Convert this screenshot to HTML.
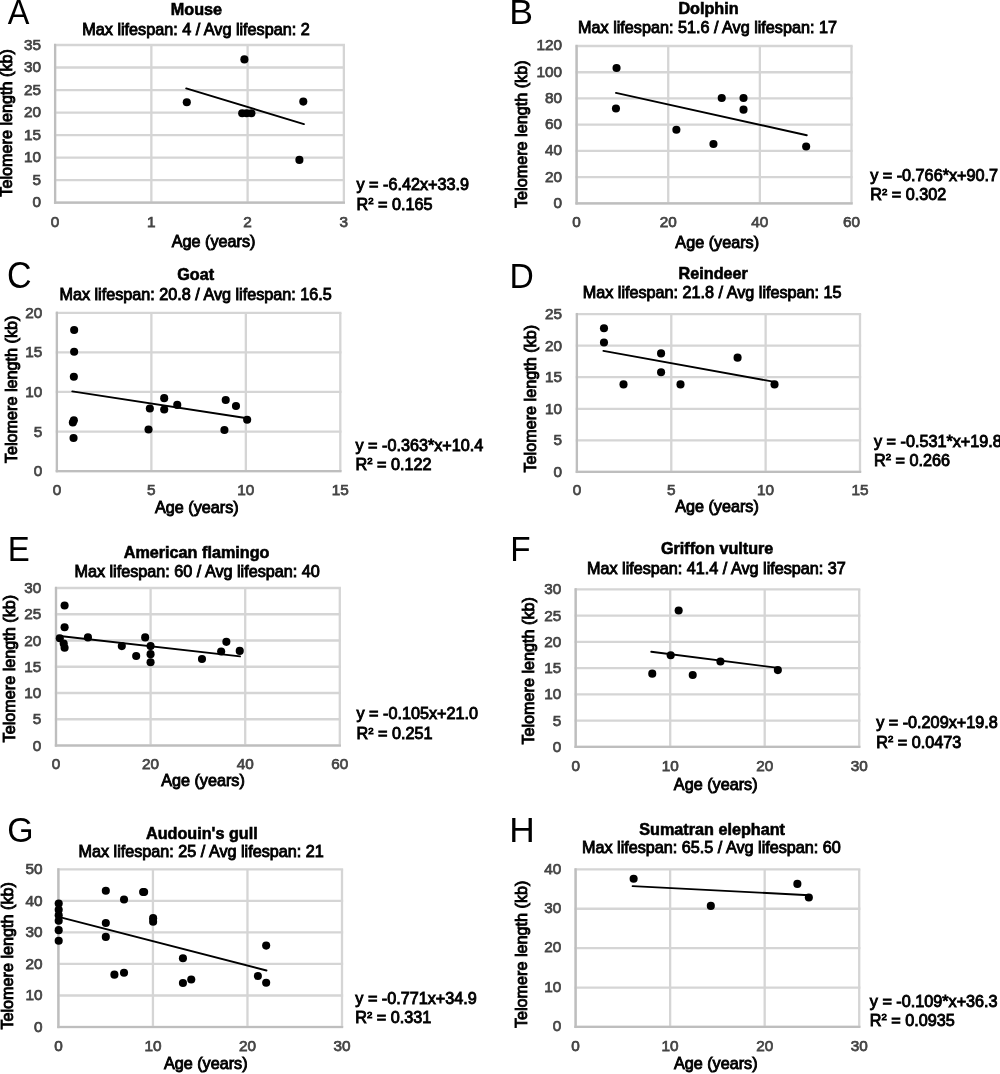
<!DOCTYPE html>
<html lang="en">
<head>
<meta charset="utf-8">
<title>Telomere length vs age</title>
<style>
html,body{margin:0;padding:0;background:#fff;}
svg{display:block;will-change:transform;}
text{font-family:"Liberation Sans", Arial, Helvetica, sans-serif;font-size:16.2px;fill:#000;stroke:#000;stroke-width:0.9px;}
.g line{stroke:#d5d5d5;stroke-width:2.3;}
.g line.ax{stroke:#bebebe;stroke-width:2.2;}
.tk text{fill:#444444;stroke:#444444;stroke-width:0.75px;font-size:15.3px;}
.b{font-weight:bold;stroke-width:0.6px;}
.L{font-size:34px;stroke:none;}
.m{text-anchor:middle;}
.e{text-anchor:end;}
.pt circle{fill:#000;}
.fit{stroke:#000;stroke-width:1.9;stroke-linecap:round;}
.sup{font-size:9.6px;}
</style>
</head>
<body>
<svg width="1000" height="1074" viewBox="0 0 1000 1074">
<rect width="1000" height="1074" fill="#fff"/>
<g id="panel-A">
<text class="L" transform="translate(7.72 23.56) scale(0.955 1.045)">A</text>
<text class="b m" x="196.5" y="15.3">Mouse</text>
<text class="m" x="196" y="35.1">Max lifespan: 4 / Avg lifespan: 2</text>
<g class="g">
<line x1="53.95" y1="45" x2="345" y2="45"/>
<line x1="53.95" y1="67.51" x2="345" y2="67.51"/>
<line x1="53.95" y1="90.03" x2="345" y2="90.03"/>
<line x1="53.95" y1="112.54" x2="345" y2="112.54"/>
<line x1="53.95" y1="135.06" x2="345" y2="135.06"/>
<line x1="53.95" y1="157.57" x2="345" y2="157.57"/>
<line x1="53.95" y1="180.09" x2="345" y2="180.09"/>
<line x1="53.95" y1="202.6" x2="345" y2="202.6"/>
<line x1="55.1" y1="45" x2="55.1" y2="202.6"/>
<line x1="151.35" y1="45" x2="151.35" y2="202.6"/>
<line x1="247.6" y1="45" x2="247.6" y2="202.6"/>
<line x1="343.85" y1="45" x2="343.85" y2="202.6"/>
<line class="ax" x1="55.1" y1="43.85" x2="55.1" y2="203.75"/>
<line class="ax" x1="53.95" y1="202.6" x2="345" y2="202.6"/>
</g>
<g class="tk">
<text class="e" x="41" y="49.6">35</text>
<text class="e" x="41" y="72.11">30</text>
<text class="e" x="41" y="94.63">25</text>
<text class="e" x="41" y="117.14">20</text>
<text class="e" x="41" y="139.66">15</text>
<text class="e" x="41" y="162.17">10</text>
<text class="e" x="41" y="184.69">5</text>
<text class="e" x="41" y="207.2">0</text>
<text class="m" x="55.1" y="227">0</text>
<text class="m" x="151.35" y="227">1</text>
<text class="m" x="247.6" y="227">2</text>
<text class="m" x="343.85" y="227">3</text>
</g>
<text class="m" x="213.6" y="247">Age (years)</text>
<text class="m" transform="translate(12.2 122.9) rotate(-90)">Telomere length (kb)</text>
<line class="fit" x1="186.2" y1="88.4" x2="303.9" y2="124.15"/>
<g class="pt">
<circle cx="244.4" cy="59.4" r="4.05"/>
<circle cx="186.8" cy="102.2" r="4.05"/>
<circle cx="303.3" cy="101.6" r="4.05"/>
<circle cx="242.2" cy="113.18" r="4.05"/>
<circle cx="246.6" cy="113.18" r="4.05"/>
<circle cx="251.4" cy="113.18" r="4.05"/>
<circle cx="299.4" cy="159.9" r="4.05"/>
</g>
<text x="356.5" y="190.1">y = -6.42x+33.9</text>
<text x="356.5" y="209.5">R<tspan class="sup" dy="-5.5">2</tspan><tspan dy="5.5"> = 0.165</tspan></text>
</g>
<g id="panel-B">
<text class="L" transform="translate(509.21 23.56) scale(1.048 1.045)">B</text>
<text class="b m" x="708.5" y="14.2">Dolphin</text>
<text class="m" x="707.5" y="33.1">Max lifespan: 51.6 / Avg lifespan: 17</text>
<g class="g">
<line x1="575.45" y1="46" x2="852.65" y2="46"/>
<line x1="575.45" y1="72.23" x2="852.65" y2="72.23"/>
<line x1="575.45" y1="98.47" x2="852.65" y2="98.47"/>
<line x1="575.45" y1="124.7" x2="852.65" y2="124.7"/>
<line x1="575.45" y1="150.93" x2="852.65" y2="150.93"/>
<line x1="575.45" y1="177.17" x2="852.65" y2="177.17"/>
<line x1="575.45" y1="203.4" x2="852.65" y2="203.4"/>
<line x1="576.6" y1="46" x2="576.6" y2="203.4"/>
<line x1="668.23" y1="46" x2="668.23" y2="203.4"/>
<line x1="759.87" y1="46" x2="759.87" y2="203.4"/>
<line x1="851.5" y1="46" x2="851.5" y2="203.4"/>
<line class="ax" x1="576.6" y1="44.85" x2="576.6" y2="204.55"/>
<line class="ax" x1="575.45" y1="203.4" x2="852.65" y2="203.4"/>
</g>
<g class="tk">
<text class="e" x="562" y="50.4">120</text>
<text class="e" x="562" y="76.63">100</text>
<text class="e" x="562" y="102.87">80</text>
<text class="e" x="562" y="129.1">60</text>
<text class="e" x="562" y="155.33">40</text>
<text class="e" x="562" y="181.57">20</text>
<text class="e" x="562" y="207.8">0</text>
<text class="m" x="576.6" y="227.2">0</text>
<text class="m" x="668.23" y="227.2">20</text>
<text class="m" x="759.87" y="227.2">40</text>
<text class="m" x="851.5" y="227.2">60</text>
</g>
<text class="m" x="717.2" y="248.1">Age (years)</text>
<text class="m" transform="translate(526.5 134.25) rotate(-90)">Telomere length (kb)</text>
<line class="fit" x1="615.96" y1="92.88" x2="806.75" y2="135.21"/>
<g class="pt">
<circle cx="616.56" cy="68.02" r="4.05"/>
<circle cx="615.96" cy="108.43" r="4.05"/>
<circle cx="676.39" cy="129.75" r="4.05"/>
<circle cx="713.45" cy="144" r="4.05"/>
<circle cx="721.74" cy="98.03" r="4.05"/>
<circle cx="743.52" cy="98.03" r="4.05"/>
<circle cx="743.52" cy="109.65" r="4.05"/>
<circle cx="806.15" cy="146.52" r="4.05"/>
</g>
<text x="870.2" y="181">y = -0.766*x+90.7</text>
<text x="870.2" y="200">R<tspan class="sup" dy="-5.5">2</tspan><tspan dy="5.5"> = 0.302</tspan></text>
</g>
<g id="panel-C">
<text class="L" transform="translate(7 288.38) scale(1.0 1.074)">C</text>
<text class="b m" x="195.6" y="280.4">Goat</text>
<text class="m" x="195.6" y="300.3">Max lifespan: 20.8 / Avg lifespan: 16.5</text>
<g class="g">
<line x1="55.75" y1="312.8" x2="341.45" y2="312.8"/>
<line x1="55.75" y1="352.38" x2="341.45" y2="352.38"/>
<line x1="55.75" y1="391.95" x2="341.45" y2="391.95"/>
<line x1="55.75" y1="431.53" x2="341.45" y2="431.53"/>
<line x1="55.75" y1="471.1" x2="341.45" y2="471.1"/>
<line x1="56.9" y1="312.8" x2="56.9" y2="471.1"/>
<line x1="151.37" y1="312.8" x2="151.37" y2="471.1"/>
<line x1="245.83" y1="312.8" x2="245.83" y2="471.1"/>
<line x1="340.3" y1="312.8" x2="340.3" y2="471.1"/>
<line class="ax" x1="56.9" y1="311.65" x2="56.9" y2="472.25"/>
<line class="ax" x1="55.75" y1="471.1" x2="341.45" y2="471.1"/>
</g>
<g class="tk">
<text class="e" x="42.2" y="317.8">20</text>
<text class="e" x="42.2" y="357.38">15</text>
<text class="e" x="42.2" y="396.95">10</text>
<text class="e" x="42.2" y="436.53">5</text>
<text class="e" x="42.2" y="476.1">0</text>
<text class="m" x="56.9" y="494.8">0</text>
<text class="m" x="151.37" y="494.8">5</text>
<text class="m" x="245.83" y="494.8">10</text>
<text class="m" x="340.3" y="494.8">15</text>
</g>
<text class="m" x="196.9" y="513.1">Age (years)</text>
<text class="m" transform="translate(17 389.4) rotate(-90)">Telomere length (kb)</text>
<line class="fit" x1="72.26" y1="391.34" x2="247.16" y2="418.2"/>
<g class="pt">
<circle cx="74.15" cy="330.03" r="4.05"/>
<circle cx="74.15" cy="351.72" r="4.05"/>
<circle cx="73.85" cy="376.75" r="4.05"/>
<circle cx="73.85" cy="420.23" r="4.05"/>
<circle cx="72.85" cy="422.45" r="4.05"/>
<circle cx="73.55" cy="438.06" r="4.05"/>
<circle cx="148.54" cy="429.55" r="4.05"/>
<circle cx="149.84" cy="408.47" r="4.05"/>
<circle cx="164.2" cy="398.13" r="4.05"/>
<circle cx="164.2" cy="409.48" r="4.05"/>
<circle cx="177.26" cy="404.92" r="4.05"/>
<circle cx="225.72" cy="400.06" r="4.05"/>
<circle cx="235.99" cy="405.94" r="4.05"/>
<circle cx="224.43" cy="429.95" r="4.05"/>
<circle cx="247.16" cy="419.82" r="4.05"/>
</g>
<text x="355.5" y="450.5">y = -0.363*x+10.4</text>
<text x="355.5" y="469.5">R<tspan class="sup" dy="-5.5">2</tspan><tspan dy="5.5"> = 0.122</tspan></text>
</g>
<g id="panel-D">
<text class="L" transform="translate(509.43 288.16) scale(0.99 1.048)">D</text>
<text class="b m" x="713.25" y="279.2">Reindeer</text>
<text class="m" x="712.2" y="298">Max lifespan: 21.8 / Avg lifespan: 15</text>
<g class="g">
<line x1="575.75" y1="314.1" x2="861.15" y2="314.1"/>
<line x1="575.75" y1="345.66" x2="861.15" y2="345.66"/>
<line x1="575.75" y1="377.22" x2="861.15" y2="377.22"/>
<line x1="575.75" y1="408.78" x2="861.15" y2="408.78"/>
<line x1="575.75" y1="440.34" x2="861.15" y2="440.34"/>
<line x1="575.75" y1="471.9" x2="861.15" y2="471.9"/>
<line x1="576.9" y1="314.1" x2="576.9" y2="471.9"/>
<line x1="671.27" y1="314.1" x2="671.27" y2="471.9"/>
<line x1="765.63" y1="314.1" x2="765.63" y2="471.9"/>
<line x1="860" y1="314.1" x2="860" y2="471.9"/>
<line class="ax" x1="576.9" y1="312.95" x2="576.9" y2="473.05"/>
<line class="ax" x1="575.75" y1="471.9" x2="861.15" y2="471.9"/>
</g>
<g class="tk">
<text class="e" x="562" y="319.1">25</text>
<text class="e" x="562" y="350.66">20</text>
<text class="e" x="562" y="382.22">15</text>
<text class="e" x="562" y="413.78">10</text>
<text class="e" x="562" y="445.34">5</text>
<text class="e" x="562" y="476.9">0</text>
<text class="m" x="576.9" y="495">0</text>
<text class="m" x="671.27" y="495">5</text>
<text class="m" x="765.63" y="495">10</text>
<text class="m" x="860" y="495">15</text>
</g>
<text class="m" x="717" y="511.5">Age (years)</text>
<text class="m" transform="translate(535.7 398.7) rotate(-90)">Telomere length (kb)</text>
<line class="fit" x1="603.4" y1="350.9" x2="774.53" y2="381.86"/>
<g class="pt">
<circle cx="603.99" cy="328.32" r="4.05"/>
<circle cx="603.99" cy="342.43" r="4.05"/>
<circle cx="623.52" cy="384.38" r="4.05"/>
<circle cx="661.07" cy="353.42" r="4.05"/>
<circle cx="661.07" cy="372.18" r="4.05"/>
<circle cx="680.5" cy="384.38" r="4.05"/>
<circle cx="737.58" cy="357.66" r="4.05"/>
<circle cx="774.53" cy="384.38" r="4.05"/>
</g>
<text x="874" y="447">y = -0.531*x+19.8</text>
<text x="874" y="465.5">R<tspan class="sup" dy="-5.5">2</tspan><tspan dy="5.5"> = 0.266</tspan></text>
</g>
<g id="panel-E">
<text class="L" transform="translate(7.64 561.41) scale(0.97 1.048)">E</text>
<text class="b m" x="196.6" y="557.6">American flamingo</text>
<text class="m" x="197.1" y="576.7">Max lifespan: 60 / Avg lifespan: 40</text>
<g class="g">
<line x1="54.85" y1="588" x2="340.95" y2="588"/>
<line x1="54.85" y1="614.25" x2="340.95" y2="614.25"/>
<line x1="54.85" y1="640.5" x2="340.95" y2="640.5"/>
<line x1="54.85" y1="666.75" x2="340.95" y2="666.75"/>
<line x1="54.85" y1="693" x2="340.95" y2="693"/>
<line x1="54.85" y1="719.25" x2="340.95" y2="719.25"/>
<line x1="54.85" y1="745.5" x2="340.95" y2="745.5"/>
<line x1="56" y1="588" x2="56" y2="745.5"/>
<line x1="150.6" y1="588" x2="150.6" y2="745.5"/>
<line x1="245.2" y1="588" x2="245.2" y2="745.5"/>
<line x1="339.8" y1="588" x2="339.8" y2="745.5"/>
<line class="ax" x1="56" y1="586.85" x2="56" y2="746.65"/>
<line class="ax" x1="54.85" y1="745.5" x2="340.95" y2="745.5"/>
</g>
<g class="tk">
<text class="e" x="41.3" y="593">30</text>
<text class="e" x="41.3" y="619.25">25</text>
<text class="e" x="41.3" y="645.5">20</text>
<text class="e" x="41.3" y="671.75">15</text>
<text class="e" x="41.3" y="698">10</text>
<text class="e" x="41.3" y="724.25">5</text>
<text class="e" x="41.3" y="750.5">0</text>
<text class="m" x="56" y="769.2">0</text>
<text class="m" x="150.6" y="769.2">20</text>
<text class="m" x="245.2" y="769.2">40</text>
<text class="m" x="339.8" y="769.2">60</text>
</g>
<text class="m" x="203" y="785.5">Age (years)</text>
<text class="m" transform="translate(15 668.6) rotate(-90)">Telomere length (kb)</text>
<line class="fit" x1="57.6" y1="635.79" x2="240.04" y2="656.36"/>
<g class="pt">
<circle cx="64.59" cy="605.44" r="4.05"/>
<circle cx="64.59" cy="627.32" r="4.05"/>
<circle cx="59.79" cy="638.32" r="4.05"/>
<circle cx="63.69" cy="643.46" r="4.05"/>
<circle cx="64.59" cy="647.69" r="4.05"/>
<circle cx="87.95" cy="637.41" r="4.05"/>
<circle cx="121.81" cy="646.08" r="4.05"/>
<circle cx="136.19" cy="656.06" r="4.05"/>
<circle cx="145.17" cy="637.41" r="4.05"/>
<circle cx="150.57" cy="646.08" r="4.05"/>
<circle cx="150.57" cy="654.15" r="4.05"/>
<circle cx="150.57" cy="662.21" r="4.05"/>
<circle cx="201.99" cy="658.99" r="4.05"/>
<circle cx="221.17" cy="651.52" r="4.05"/>
<circle cx="226.36" cy="641.84" r="4.05"/>
<circle cx="239.74" cy="650.92" r="4.05"/>
</g>
<text x="356.5" y="719.2">y = -0.105x+21.0</text>
<text x="356.5" y="739.2">R<tspan class="sup" dy="-5.5">2</tspan><tspan dy="5.5"> = 0.251</tspan></text>
</g>
<g id="panel-F">
<text class="L" transform="translate(510.26 561.41) scale(0.978 1.043)">F</text>
<text class="b m" x="717.15" y="554.3">Griffon vulture</text>
<text class="m" x="716.45" y="573.7">Max lifespan: 41.4 / Avg lifespan: 37</text>
<g class="g">
<line x1="574.55" y1="589.3" x2="860.35" y2="589.3"/>
<line x1="574.55" y1="615.55" x2="860.35" y2="615.55"/>
<line x1="574.55" y1="641.8" x2="860.35" y2="641.8"/>
<line x1="574.55" y1="668.05" x2="860.35" y2="668.05"/>
<line x1="574.55" y1="694.3" x2="860.35" y2="694.3"/>
<line x1="574.55" y1="720.55" x2="860.35" y2="720.55"/>
<line x1="574.55" y1="746.8" x2="860.35" y2="746.8"/>
<line x1="575.7" y1="589.3" x2="575.7" y2="746.8"/>
<line x1="670.2" y1="589.3" x2="670.2" y2="746.8"/>
<line x1="764.7" y1="589.3" x2="764.7" y2="746.8"/>
<line x1="859.2" y1="589.3" x2="859.2" y2="746.8"/>
<line class="ax" x1="575.7" y1="588.15" x2="575.7" y2="747.95"/>
<line class="ax" x1="574.55" y1="746.8" x2="860.35" y2="746.8"/>
</g>
<g class="tk">
<text class="e" x="561.2" y="594.3">30</text>
<text class="e" x="561.2" y="620.55">25</text>
<text class="e" x="561.2" y="646.8">20</text>
<text class="e" x="561.2" y="673.05">15</text>
<text class="e" x="561.2" y="699.3">10</text>
<text class="e" x="561.2" y="725.55">5</text>
<text class="e" x="561.2" y="751.8">0</text>
<text class="m" x="575.7" y="771">0</text>
<text class="m" x="670.2" y="771">10</text>
<text class="m" x="764.7" y="771">20</text>
<text class="m" x="859.2" y="771">30</text>
</g>
<text class="m" x="715.7" y="790">Age (years)</text>
<text class="m" transform="translate(534 670.8) rotate(-90)">Telomere length (kb)</text>
<line class="fit" x1="651.26" y1="651.8" x2="778.26" y2="667.9"/>
<g class="pt">
<circle cx="678.67" cy="610.53" r="4.05"/>
<circle cx="670.7" cy="655.32" r="4.05"/>
<circle cx="652.26" cy="673.64" r="4.05"/>
<circle cx="692.73" cy="674.94" r="4.05"/>
<circle cx="720.44" cy="661.46" r="4.05"/>
<circle cx="777.86" cy="670.11" r="4.05"/>
</g>
<text x="876.2" y="728">y = -0.209x+19.8</text>
<text x="876.2" y="747.5">R<tspan class="sup" dy="-5.5">2</tspan><tspan dy="5.5"> = 0.0473</tspan></text>
</g>
<g id="panel-G">
<text class="L" transform="translate(7.26 841.64) scale(0.995 1.048)">G</text>
<text class="b m" x="201.85" y="838.6">Audouin&#39;s gull</text>
<text class="m" x="201.15" y="857.2">Max lifespan: 25 / Avg lifespan: 21</text>
<g class="g">
<line x1="57.25" y1="869.4" x2="343.15" y2="869.4"/>
<line x1="57.25" y1="900.92" x2="343.15" y2="900.92"/>
<line x1="57.25" y1="932.44" x2="343.15" y2="932.44"/>
<line x1="57.25" y1="963.96" x2="343.15" y2="963.96"/>
<line x1="57.25" y1="995.48" x2="343.15" y2="995.48"/>
<line x1="57.25" y1="1027" x2="343.15" y2="1027"/>
<line x1="58.4" y1="869.4" x2="58.4" y2="1027"/>
<line x1="152.93" y1="869.4" x2="152.93" y2="1027"/>
<line x1="247.47" y1="869.4" x2="247.47" y2="1027"/>
<line x1="342" y1="869.4" x2="342" y2="1027"/>
<line class="ax" x1="58.4" y1="868.25" x2="58.4" y2="1028.15"/>
<line class="ax" x1="57.25" y1="1027" x2="343.15" y2="1027"/>
</g>
<g class="tk">
<text class="e" x="42.5" y="874.4">50</text>
<text class="e" x="42.5" y="905.92">40</text>
<text class="e" x="42.5" y="937.44">30</text>
<text class="e" x="42.5" y="968.96">20</text>
<text class="e" x="42.5" y="1000.48">10</text>
<text class="e" x="42.5" y="1032">0</text>
<text class="m" x="58.4" y="1050.8">0</text>
<text class="m" x="152.93" y="1050.8">10</text>
<text class="m" x="247.47" y="1050.8">20</text>
<text class="m" x="342" y="1050.8">30</text>
</g>
<text class="m" x="205.75" y="1069.2">Age (years)</text>
<text class="m" transform="translate(12.8 955.8) rotate(-90)">Telomere length (kb)</text>
<line class="fit" x1="58.7" y1="916.82" x2="266.47" y2="970.5"/>
<g class="pt">
<circle cx="58.7" cy="903.6" r="4.05"/>
<circle cx="58.7" cy="909.76" r="4.05"/>
<circle cx="58.7" cy="915.21" r="4.05"/>
<circle cx="58.7" cy="920.76" r="4.05"/>
<circle cx="58.7" cy="930.14" r="4.05"/>
<circle cx="58.7" cy="940.73" r="4.05"/>
<circle cx="105.82" cy="890.69" r="4.05"/>
<circle cx="105.82" cy="922.98" r="4.05"/>
<circle cx="105.82" cy="936.9" r="4.05"/>
<circle cx="114.42" cy="974.63" r="4.05"/>
<circle cx="124.02" cy="899.47" r="4.05"/>
<circle cx="124.02" cy="972.72" r="4.05"/>
<circle cx="143.13" cy="892" r="4.05"/>
<circle cx="144.13" cy="892" r="4.05"/>
<circle cx="153.13" cy="918.13" r="4.05"/>
<circle cx="153.13" cy="921.66" r="4.05"/>
<circle cx="182.94" cy="958.19" r="4.05"/>
<circle cx="182.94" cy="983.01" r="4.05"/>
<circle cx="191.25" cy="979.48" r="4.05"/>
<circle cx="257.87" cy="975.95" r="4.05"/>
<circle cx="266.17" cy="945.58" r="4.05"/>
<circle cx="266.17" cy="982.71" r="4.05"/>
</g>
<text x="355.3" y="1003.8">y = -0.771x+34.9</text>
<text x="355.3" y="1023.2">R<tspan class="sup" dy="-5.5">2</tspan><tspan dy="5.5"> = 0.331</tspan></text>
</g>
<g id="panel-H">
<text class="L" transform="translate(509.13 842.06) scale(1.038 1.043)">H</text>
<text class="b m" x="712.1" y="834.55">Sumatran elephant</text>
<text class="m" x="711.45" y="853.35">Max lifespan: 65.5 / Avg lifespan: 60</text>
<g class="g">
<line x1="574.45" y1="869.4" x2="860.35" y2="869.4"/>
<line x1="574.45" y1="908.77" x2="860.35" y2="908.77"/>
<line x1="574.45" y1="948.15" x2="860.35" y2="948.15"/>
<line x1="574.45" y1="987.53" x2="860.35" y2="987.53"/>
<line x1="574.45" y1="1026.9" x2="860.35" y2="1026.9"/>
<line x1="575.6" y1="869.4" x2="575.6" y2="1026.9"/>
<line x1="670.13" y1="869.4" x2="670.13" y2="1026.9"/>
<line x1="764.67" y1="869.4" x2="764.67" y2="1026.9"/>
<line x1="859.2" y1="869.4" x2="859.2" y2="1026.9"/>
<line class="ax" x1="575.6" y1="868.25" x2="575.6" y2="1028.05"/>
<line class="ax" x1="574.45" y1="1026.9" x2="860.35" y2="1026.9"/>
</g>
<g class="tk">
<text class="e" x="561.2" y="873.7">40</text>
<text class="e" x="561.2" y="913.07">30</text>
<text class="e" x="561.2" y="952.45">20</text>
<text class="e" x="561.2" y="991.83">10</text>
<text class="e" x="561.2" y="1031.2">0</text>
<text class="m" x="575.6" y="1050.9">0</text>
<text class="m" x="670.13" y="1050.9">10</text>
<text class="m" x="764.67" y="1050.9">20</text>
<text class="m" x="859.2" y="1050.9">30</text>
</g>
<text class="m" x="715.75" y="1069.1">Age (years)</text>
<text class="m" transform="translate(527.4 954.3) rotate(-90)">Telomere length (kb)</text>
<line class="fit" x1="632.64" y1="886.14" x2="809.14" y2="895.21"/>
<g class="pt">
<circle cx="633.64" cy="878.78" r="4.05"/>
<circle cx="710.82" cy="905.9" r="4.05"/>
<circle cx="797.37" cy="883.92" r="4.05"/>
<circle cx="808.84" cy="897.43" r="4.05"/>
</g>
<text x="869.8" y="1006.7">y = -0.109*x+36.3</text>
<text x="869.8" y="1025.7">R<tspan class="sup" dy="-5.5">2</tspan><tspan dy="5.5"> = 0.0935</tspan></text>
</g>
</svg>
</body>
</html>
